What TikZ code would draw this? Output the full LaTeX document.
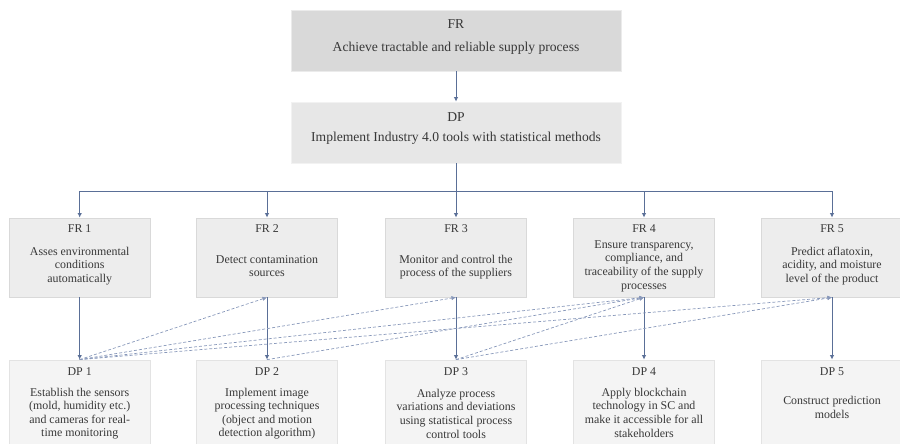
\documentclass[tikz,border=0pt]{standalone}
\usepackage{fontspec}
\setmainfont{Liberation Serif}
\usetikzlibrary{calc,arrows.meta}

\definecolor{linkblue}{HTML}{5A6F97}
\definecolor{dashblue}{HTML}{8898BA}
\definecolor{txtgray}{HTML}{383838}

\tikzset{
  topfr/.style={rectangle, fill=black!15, draw=black!8, line width=0.8pt,
    minimum width=330pt, minimum height=61pt, inner sep=0pt},
  topdp/.style={topfr, fill=black!9.5, draw=black!5},
  frbox/.style={rectangle, fill=black!7, draw=black!15, line width=0.8pt,
    minimum width=141pt, minimum height=79pt, inner sep=0pt},
  dpbox/.style={frbox, fill=black!4.5, draw=black!11, minimum height=100pt},
  ttl/.style={text=txtgray, font=\fontsize{11.9}{13.6}\selectfont, inner sep=0pt},
  bigttl/.style={ttl, font=\fontsize{13.6}{15}\selectfont},
  body/.style={ttl, align=center},
  solidarrow/.style={draw=linkblue, line width=0.9pt,
    -{Latex[length=4.5pt,width=4.5pt]}},
  solidline/.style={draw=linkblue, line width=0.9pt},
  coupling/.style={draw=dashblue, line width=0.7pt, dash pattern=on 3pt off 2pt,
    -{Latex[length=4.5pt,width=4.5pt]}}
}

\begin{document}
\begin{tikzpicture}[x=1pt,y=-1pt]
\useasboundingbox (0,0) rectangle (900,444);
\clip (0,0) rectangle (900,444);

% top-level requirement and design parameter
\node[topfr] (frtop) at (456,40.5) {};
\node[bigttl] (frtopt) at ($(frtop.north)+(0,14)$) {FR};
\node[bigttl] (frtopb) at ($(frtop.north)+(0,39)$) {Achieve tractable and reliable supply process};

\node[topdp] (dptop) at (456,132.5) {};
\node[bigttl] (dptopt) at ($(dptop.north)+(0,15)$) {DP};
\node[bigttl] (dptopb) at ($(dptop.north)+(0,37)$) {Implement Industry 4.0 tools with statistical methods};

% second-level functional requirements
\node[frbox] (fr1) at (79.7,257.5) {};
\node[frbox] (fr2) at (267,257.5) {};
\node[frbox] (fr3) at (456,257.5) {};
\node[frbox] (fr4) at (644,257.5) {};
\node[frbox] (fr5) at (832,257.5) {};

\node[ttl] (fr1t) at ($(fr1.north)+(0,11)$) {FR 1};
\node[ttl] (fr2t) at ($(fr2.north)+(0,11)$) {FR 2};
\node[ttl] (fr3t) at ($(fr3.north)+(0,11)$) {FR 3};
\node[ttl] (fr4t) at ($(fr4.north)+(0,11)$) {FR 4};
\node[ttl] (fr5t) at ($(fr5.north)+(0,11)$) {FR 5};

\node[body] (fr1b) at ($(fr1.center)+(0,8.5)$) {Asses environmental\\conditions\\automatically};
\node[body] (fr2b) at ($(fr2.center)+(0,8.5)$) {Detect contamination\\sources};
\node[body] (fr3b) at ($(fr3.center)+(0,9.5)$) {Monitor and control the\\process of the suppliers};
\node[body] (fr4b) at ($(fr4.center)+(0,8.5)$) {Ensure transparency,\\compliance, and\\traceability of the supply\\processes};
\node[body] (fr5b) at ($(fr5.center)+(0,8.5)$) {Predict aflatoxin,\\acidity, and moisture\\level of the product};

% second-level design parameters
\node[dpbox] (dp1) at (79.7,410) {};
\node[dpbox] (dp2) at (267,410) {};
\node[dpbox] (dp3) at (456,410) {};
\node[dpbox] (dp4) at (644,410) {};
\node[dpbox] (dp5) at (832,410) {};

\node[ttl] (dp1t) at ($(dp1.north)+(0,12)$) {DP 1};
\node[ttl] (dp2t) at ($(dp2.north)+(0,12)$) {DP 2};
\node[ttl] (dp3t) at ($(dp3.north)+(0,12)$) {DP 3};
\node[ttl] (dp4t) at ($(dp4.north)+(0,12)$) {DP 4};
\node[ttl] (dp5t) at ($(dp5.north)+(0,12)$) {DP 5};

\node[body] (dp1b) at ($(dp1.north)+(0,54)$) {Establish the sensors\\(mold, humidity etc.)\\and cameras for real-\\time monitoring};
\node[body] (dp2b) at ($(dp2.north)+(0,54)$) {Implement image\\processing techniques\\(object and motion\\detection algorithm)};
\node[body] (dp3b) at ($(dp3.north)+(0,54)$) {Analyze process\\variations and deviations\\using statistical process\\control tools};
\node[body] (dp4b) at ($(dp4.north)+(0,53)$) {Apply blockchain\\technology in SC and\\make it accessible for all\\stakeholders};
\node[body] (dp5b) at ($(dp5.north)+(0,48)$) {Construct prediction\\models};

% decomposition links
\draw[solidarrow] (frtop.south) -- (dptop.north);
\coordinate (bus) at (456,191);
\draw[solidline] (dptop.south) -- (bus);
\draw[solidline] (fr1.north |- bus) -- (fr5.north |- bus);
\foreach \i in {1,...,5}{
  \draw[solidarrow] (fr\i.north |- bus) -- (fr\i.north);
  \draw[solidarrow] (fr\i.south) -- (dp\i.north);
}

% off-diagonal couplings of the design matrix
\draw[coupling] (dp1.north) -- (fr2.south);
\draw[coupling] (dp1.north) -- (fr3.south);
\draw[coupling] (dp1.north) -- (fr4.south);
\draw[coupling] (dp1.north) -- (fr5.south);
\draw[coupling] (dp2.north) -- (fr4.south);
\draw[coupling] (dp3.north) -- (fr4.south);
\draw[coupling] (dp3.north) -- (fr5.south);
\end{tikzpicture}
\end{document}
